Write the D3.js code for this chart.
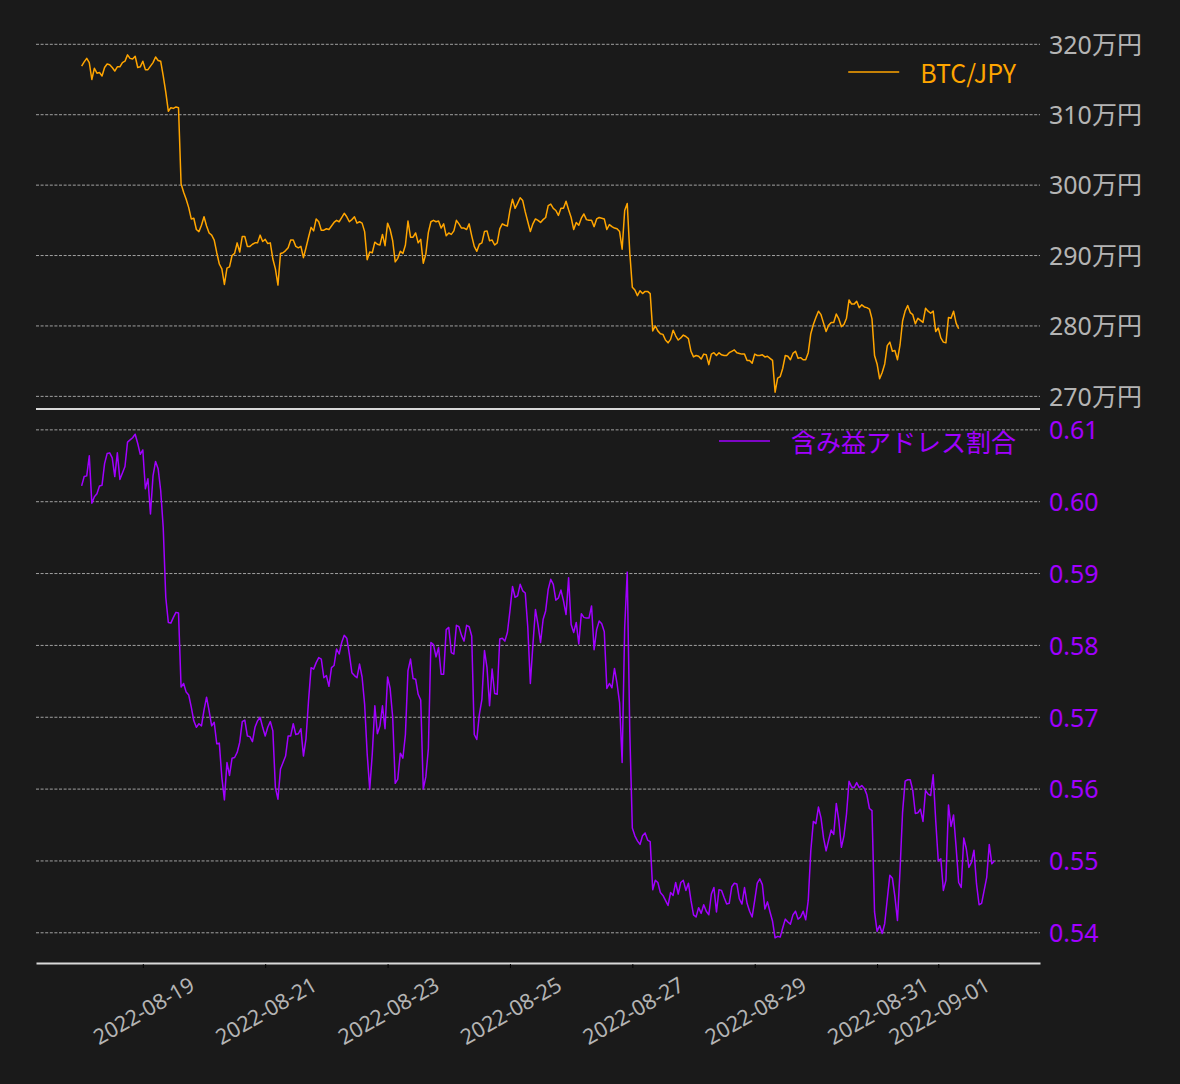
<!DOCTYPE html>
<html>
<head>
<meta charset="utf-8">
<script src="https://cdn.jsdelivr.net/npm/d3@7"></script>
<style>
  html, body { margin: 0; padding: 0; background: #1a1a1a; }
  svg { display: block; font-family: "Noto Sans CJK JP", "Noto Sans", sans-serif; }
</style>
</head>
<body>
<script>
// ---- data (hourly, starting 2022-08-18 00:00) ----
const startTime = "2022-08-18T00:00:00Z";
const btcLabel = "BTC/JPY";
const ratioLabel = "含み益アドレス割合";

// BTC/JPY price in 万円
const btcValues = [
  316.9, 317.5, 318.0, 317.4, 315.0, 316.6, 315.9, 316.0, 315.5, 316.7,
  317.2, 317.1, 316.7, 316.2, 316.8, 316.8, 317.4, 317.6, 318.5, 318.0,
  317.9, 318.3, 316.7, 316.8, 317.6, 316.4, 316.4, 316.9, 317.4, 318.2,
  317.7, 317.6, 315.5, 313.2, 310.5, 311.0, 310.9, 311.1, 311.0, 300.2,
  299.0, 298.0, 296.8, 295.2, 295.3, 293.7, 293.4, 294.3, 295.5, 294.2,
  293.2, 292.9, 292.2, 290.4, 288.8, 288.1, 285.9, 288.2, 288.4, 290.0,
  290.3, 291.8, 290.5, 292.7, 292.7, 291.3, 291.3, 291.6, 291.8, 291.8,
  292.9, 292.0, 292.3, 291.7, 291.8, 289.5, 288.1, 285.8, 290.3, 290.4,
  290.7, 291.1, 292.2, 292.2, 291.3, 291.1, 291.3, 289.7, 291.1, 292.6,
  294.0, 293.5, 295.2, 294.8, 293.6, 293.6, 293.8, 293.7, 294.2, 294.7,
  295.0, 294.8, 295.4, 296.0, 295.5, 294.8, 295.1, 295.5, 294.6, 294.8,
  294.6, 293.4, 289.4, 290.5, 290.4, 291.9, 291.6, 291.5, 293.0, 291.4,
  294.6, 293.7, 292.1, 289.1, 289.6, 290.6, 290.3, 291.5, 294.9, 292.6,
  292.6, 293.2, 291.8, 292.3, 288.9, 290.2, 293.3, 294.8, 295.0, 294.8,
  294.9, 293.9, 294.5, 292.8, 293.2, 293.0, 293.5, 295.0, 294.5, 293.9,
  293.9, 293.7, 294.5, 292.8, 291.3, 290.6, 291.6, 291.8, 293.4, 293.5,
  292.1, 292.2, 291.5, 291.8, 293.8, 294.5, 294.3, 294.2, 296.4, 298.0,
  296.7, 297.4, 298.2, 297.8, 296.2, 294.8, 293.4, 294.5, 295.2, 295.0,
  294.7, 295.1, 295.4, 297.1, 297.3, 296.7, 296.4, 295.7, 296.7, 296.7,
  297.7, 296.5, 295.4, 293.7, 294.7, 294.3, 295.3, 295.9, 295.1, 295.0,
  295.0, 294.1, 295.2, 295.4, 295.3, 295.2, 293.7, 294.4, 294.1, 293.9,
  293.8, 293.4, 290.9, 296.4, 297.4, 290.4, 285.5, 285.1, 284.3, 285.0,
  284.6, 284.9, 284.9, 284.6, 279.3, 280.0, 279.3, 278.9, 278.8, 278.0,
  277.6, 278.1, 279.4, 278.6, 278.0, 278.3, 278.7, 278.5, 278.2, 276.4,
  275.6, 275.8, 275.7, 275.3, 276.0, 275.9, 274.5, 276.0, 276.2, 275.8,
  276.2, 275.9, 275.8, 275.8, 276.2, 276.4, 276.6, 276.2, 276.1, 276.0,
  276.0, 275.1, 275.1, 274.7, 276.0, 275.8, 275.8, 275.9, 275.6, 275.7,
  275.4, 275.1, 270.6, 272.6, 272.8, 274.0, 275.8, 275.7, 275.2, 276.1,
  276.4, 275.4, 275.5, 275.2, 275.2, 276.2, 278.9, 280.2, 281.2, 282.1,
  281.6, 280.4, 279.2, 280.1, 280.5, 280.5, 281.7, 281.0, 279.9, 280.2,
  281.1, 283.7, 283.1, 283.1, 283.5, 282.6, 283.0, 282.7, 282.6, 282.4,
  281.0, 275.8, 274.6, 272.5, 273.4, 274.6, 277.2, 277.7, 276.4, 276.5,
  275.2, 277.3, 280.7, 282.1, 282.9, 281.9, 281.6, 280.3, 281.1, 280.8,
  280.5, 282.5, 282.1, 281.8, 282.1, 279.2, 279.7, 278.3, 277.7, 277.6,
  281.2, 281.1, 282.1, 280.4, 279.6
];

// share of addresses in profit
const ratioValues = [
  0.6022, 0.6035, 0.6036, 0.6064, 0.5998, 0.6007, 0.6011, 0.6022, 0.6023, 0.6053,
  0.6067, 0.6068, 0.6061, 0.6035, 0.6068, 0.6031, 0.6040, 0.6049, 0.6083, 0.6086,
  0.6089, 0.6094, 0.6081, 0.6066, 0.6072, 0.6018, 0.6032, 0.5983, 0.6036, 0.6056,
  0.6046, 0.6016, 0.5964, 0.5867, 0.5832, 0.5831, 0.5839, 0.5846, 0.5845, 0.5742,
  0.5747, 0.5735, 0.5731, 0.5714, 0.5695, 0.5686, 0.5691, 0.5688, 0.5710, 0.5728,
  0.5709, 0.5688, 0.5693, 0.5663, 0.5664, 0.5616, 0.5585, 0.5637, 0.5619, 0.5643,
  0.5644, 0.5651, 0.5665, 0.5694, 0.5696, 0.5674, 0.5673, 0.5666, 0.5686, 0.5695,
  0.5700, 0.5686, 0.5674, 0.5686, 0.5694, 0.5681, 0.5602, 0.5586, 0.5628, 0.5637,
  0.5646, 0.5674, 0.5674, 0.5691, 0.5676, 0.5677, 0.5684, 0.5646, 0.5670, 0.5723,
  0.5769, 0.5767, 0.5776, 0.5783, 0.5781, 0.5755, 0.5758, 0.5743, 0.5769, 0.5772,
  0.5795, 0.5788, 0.5804, 0.5814, 0.5810, 0.5788, 0.5762, 0.5758, 0.5755, 0.5774,
  0.5756, 0.5718, 0.5649, 0.5600, 0.5649, 0.5716, 0.5677, 0.5688, 0.5716, 0.5684,
  0.5756, 0.5740, 0.5700, 0.5608, 0.5614, 0.5650, 0.5643, 0.5676, 0.5765, 0.5781,
  0.5754, 0.5753, 0.5732, 0.5724, 0.5600, 0.5617, 0.5656, 0.5804, 0.5801, 0.5784,
  0.5797, 0.5760, 0.5760, 0.5822, 0.5825, 0.5790, 0.5788, 0.5828, 0.5826, 0.5814,
  0.5806, 0.5828, 0.5826, 0.5813, 0.5676, 0.5669, 0.5704, 0.5725, 0.5793, 0.5769,
  0.5716, 0.5767, 0.5733, 0.5732, 0.5809, 0.5810, 0.5806, 0.5818, 0.5848, 0.5882,
  0.5867, 0.5869, 0.5885, 0.5876, 0.5873, 0.5825, 0.5747, 0.5801, 0.5850, 0.5829,
  0.5804, 0.5836, 0.5848, 0.5878, 0.5892, 0.5885, 0.5863, 0.5866, 0.5877, 0.5862,
  0.5843, 0.5894, 0.5829, 0.5818, 0.5832, 0.5802, 0.5844, 0.5839, 0.5838, 0.5838,
  0.5855, 0.5794, 0.5822, 0.5834, 0.5830, 0.5819, 0.5740, 0.5747, 0.5741, 0.5768,
  0.5747, 0.5720, 0.5637, 0.5825, 0.5902, 0.5680, 0.5546, 0.5535, 0.5528, 0.5523,
  0.5535, 0.5539, 0.5529, 0.5527, 0.5460, 0.5473, 0.5470, 0.5456, 0.5452, 0.5445,
  0.5438, 0.5456, 0.5452, 0.5470, 0.5454, 0.5470, 0.5473, 0.5459, 0.5469, 0.5445,
  0.5425, 0.5422, 0.5435, 0.5427, 0.5439, 0.5430, 0.5425, 0.5454, 0.5463, 0.5429,
  0.5460, 0.5459, 0.5449, 0.5440, 0.5441, 0.5464, 0.5469, 0.5468, 0.5447, 0.5440,
  0.5463, 0.5441, 0.5430, 0.5422, 0.5445, 0.5469, 0.5475, 0.5467, 0.5433, 0.5443,
  0.5429, 0.5416, 0.5393, 0.5395, 0.5394, 0.5407, 0.5419, 0.5415, 0.5412, 0.5425,
  0.5430, 0.5419, 0.5422, 0.5430, 0.5418, 0.5445, 0.5514, 0.5555, 0.5552, 0.5575,
  0.5560, 0.5532, 0.5514, 0.5529, 0.5543, 0.5537, 0.5580, 0.5556, 0.5519, 0.5535,
  0.5565, 0.5611, 0.5603, 0.5602, 0.5609, 0.5602, 0.5605, 0.5601, 0.5592, 0.5573,
  0.5570, 0.5429, 0.5402, 0.5410, 0.5399, 0.5413, 0.5447, 0.5480, 0.5476, 0.5450,
  0.5417, 0.5487, 0.5568, 0.5611, 0.5613, 0.5613, 0.5598, 0.5566, 0.5567, 0.5572,
  0.5555, 0.5598, 0.5593, 0.5591, 0.5620, 0.5556, 0.5500, 0.5503, 0.5459, 0.5473,
  0.5578, 0.5548, 0.5564, 0.5519, 0.5470, 0.5463, 0.5532, 0.5517, 0.5491, 0.5498,
  0.5515, 0.5468, 0.5439, 0.5441, 0.5459, 0.5477, 0.5523, 0.5496, 0.5500
];

const btcTicks = [270, 280, 290, 300, 310, 320];
const ratioTicks = [0.54, 0.55, 0.56, 0.57, 0.58, 0.59, 0.60, 0.61];
const dateTicks = ["2022-08-19", "2022-08-21", "2022-08-23", "2022-08-25",
                   "2022-08-27", "2022-08-29", "2022-08-31", "2022-09-01"];

// ---- layout ----
const W = 1180, H = 1084;
const X0 = 36, X1 = 1040;
const topPanel = { y0: 38, y1: 409 };
const botPanel = { y0: 409, y1: 963 };
const ORANGE = "#ffa500", PURPLE = "#a100ff", GRAY = "#b4b4b4";

const t0 = new Date(startTime).getTime();
const HOUR = 3600 * 1000;
const timeAt = i => new Date(t0 + i * HOUR);

const btc = btcValues.map((v, i) => ({ t: timeAt(i), v }));
const ratio = ratioValues.map((v, i) => ({ t: timeAt(i), v }));

function padded(ext) { const p = (ext[1] - ext[0]) * 0.05; return [ext[0] - p, ext[1] + p]; }

const tExt = d3.extent(btc.concat(ratio), d => d.t.getTime());
const x = d3.scaleUtc().domain(padded(tExt).map(v => new Date(v))).range([X0, X1]);
const yTop = d3.scaleLinear().domain(padded(d3.extent(btcValues))).range([topPanel.y1, topPanel.y0]);
const yBot = d3.scaleLinear().domain(padded(d3.extent(ratioValues))).range([botPanel.y1, botPanel.y0]);

const svg = d3.select("body").append("svg").attr("width", W).attr("height", H);
svg.append("rect").attr("width", W).attr("height", H).attr("fill", "#1a1a1a");

function grid(scale, ticks) {
  svg.append("g").selectAll("line").data(ticks).join("line")
    .attr("x1", X0).attr("x2", X1)
    .attr("y1", d => scale(d)).attr("y2", d => scale(d))
    .attr("stroke", "#c4c4c4").attr("stroke-width", 0.8)
    .attr("stroke-dasharray", "3,1.6");
}
grid(yTop, btcTicks);
grid(yBot, ratioTicks);

// lines
const lineTop = d3.line().x(d => x(d.t)).y(d => yTop(d.v));
const lineBot = d3.line().x(d => x(d.t)).y(d => yBot(d.v));
svg.append("path").datum(btc).attr("d", lineTop)
  .attr("fill", "none").attr("stroke", ORANGE).attr("stroke-width", 1.5).attr("stroke-linejoin", "round");
svg.append("path").datum(ratio).attr("d", lineBot)
  .attr("fill", "none").attr("stroke", PURPLE).attr("stroke-width", 1.5).attr("stroke-linejoin", "round");

// right y axes
function yAxis(scale, ticks, fmt, color) {
  const g = svg.append("g").attr("transform", `translate(${X1},0)`)
    .call(d3.axisRight(scale).tickValues(ticks).tickFormat(fmt).tickSize(0).tickPadding(9));
  g.select(".domain").remove();
  g.selectAll("text").attr("fill", color).attr("font-size", 25)
    .attr("font-family", '"Noto Sans", "Noto Sans CJK JP", sans-serif')
    .attr("dy", "-0.05em").attr("dominant-baseline", "central");
}
yAxis(yTop, btcTicks, d => d + "万円", GRAY);
yAxis(yBot, ratioTicks, d3.format(".2f"), PURPLE);

// top panel bottom spine
svg.append("line").attr("x1", X0).attr("x2", X1)
  .attr("y1", topPanel.y1).attr("y2", topPanel.y1)
  .attr("stroke", "#d9d9d9").attr("stroke-width", 2);

// x axis
const xa = svg.append("g").attr("transform", `translate(0,${botPanel.y1})`)
  .call(d3.axisBottom(x).tickValues(dateTicks.map(s => new Date(s + "T00:00:00Z")))
    .tickFormat(d3.utcFormat("%Y-%m-%d")).tickSize(4).tickSizeOuter(0));
xa.select(".domain").attr("stroke", "#d9d9d9").attr("stroke-width", 2);
xa.selectAll(".tick line").attr("stroke", "#000").attr("stroke-width", 1).attr("transform", "translate(0,1)");
xa.selectAll("text")
  .attr("y", null).attr("dy", null)
  .attr("fill", GRAY).attr("font-size", 21.5)
  .attr("font-family", '"Noto Sans", "Noto Sans CJK JP", sans-serif')
  .attr("text-anchor", "middle").attr("dominant-baseline", "central")
  .attr("transform", "translate(0,47) rotate(-30)");

// legends
function legend(label, color, y) {
  const g = svg.append("g");
  const txt = g.append("text").attr("x", 1016).attr("y", y)
    .attr("text-anchor", "end").attr("dominant-baseline", "central")
    .attr("fill", color).attr("font-size", 25).text(label);
  const w = txt.node().getComputedTextLength();
  const start = 1016 - w;
  g.append("line").attr("x1", start - 72).attr("x2", start - 21)
    .attr("y1", y).attr("y2", y).attr("stroke", color).attr("stroke-width", 1.4);
}
legend(btcLabel, ORANGE, 72);
legend(ratioLabel, PURPLE, 441);
</script>
</body>
</html>
